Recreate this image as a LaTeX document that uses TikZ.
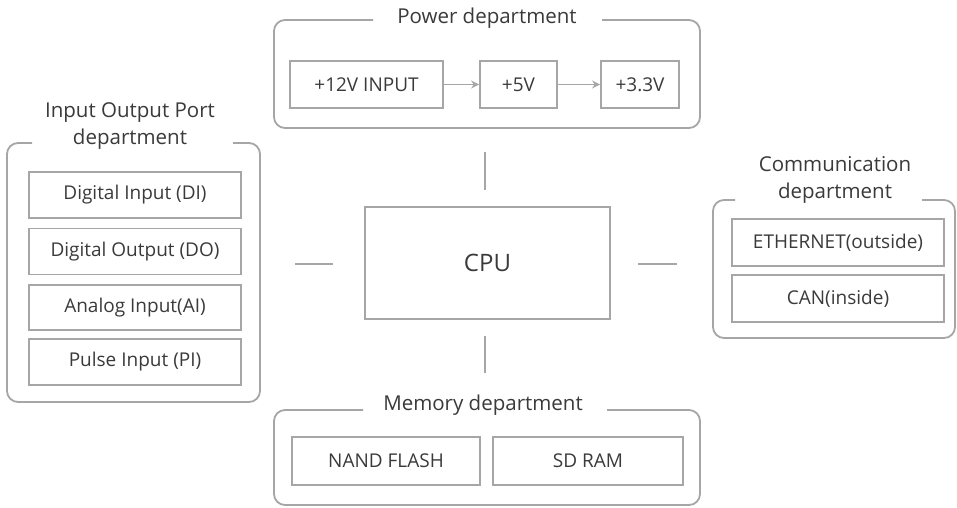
\documentclass[tikz,border=0pt]{standalone}
\usepackage{fontspec}
\setmainfont{Open Sans}
\usetikzlibrary{arrows.meta}
\definecolor{ln}{HTML}{A6A6A6}
\definecolor{tx}{HTML}{3A3A3A}
\begin{document}
\begin{tikzpicture}[x=1pt,y=-1pt,
  box/.style={draw=ln,line width=1.8pt,text=tx,inner sep=0pt,font=\fontsize{19}{22}\selectfont},
  frame/.style={draw=ln,line width=1.8pt,rounded corners=11pt},
  ttl/.style={text=tx,font=\fontsize{20.5}{27}\selectfont,align=center,inner sep=0pt},
  stub/.style={draw=ln,line width=1.8pt},
  arr/.style={draw=ln,line width=1.8pt,-{Stealth[length=8pt,width=8pt]}}]
\useasboundingbox (0,0) rectangle (957,507);
% Power department
\draw[frame] (602,20) -- (700,20) -- (700,128) -- (274,128) -- (274,20) -- (373,20);
\node[ttl] (pwrt) at (487,18) {Power department};
\node[box,minimum width=153pt,minimum height=47pt] (v12) at (366.5,84.5) {+12V INPUT};
\node[box,minimum width=77pt,minimum height=47pt] (v5) at (518.5,84.5) {+5V};
\node[box,minimum width=78pt,minimum height=47pt] (v33) at (640,84.5) {+3.3V};
\draw[arr] (v12) -- (v5);
\draw[arr] (v5) -- (v33);
% IO department
\draw[frame] (233,143) -- (260,143) -- (260,402) -- (7,402) -- (7,143) -- (32,143);
\node[ttl] (iot) at (130,126) {Input Output Port\\department};
\node[box,minimum width=212pt,minimum height=46pt] (di) at (135,195) {Digital Input (DI)};
\node[box,minimum width=212pt,minimum height=46pt] (do) at (135,251.5) {Digital Output (DO)};
\node[box,minimum width=212pt,minimum height=45pt] (ai) at (135,307.5) {Analog Input(AI)};
\node[box,minimum width=212pt,minimum height=46pt] (pi) at (135,362) {Pulse Input (PI)};
% Communication
\draw[frame] (922,200) -- (955,200) -- (955,338) -- (713,338) -- (713,200) -- (735,200);
\node[ttl] (comt) at (835,180) {Communication\\department};
\node[box,minimum width=212pt,minimum height=47pt] (eth) at (838,242.5) {ETHERNET(outside)};
\node[box,minimum width=212pt,minimum height=47pt] (can) at (838,298.5) {CAN(inside)};
% Memory
\draw[frame] (607,410) -- (700,410) -- (700,505) -- (274,505) -- (274,410) -- (363,410);
\node[ttl] (memt) at (483,405) {Memory department};
\node[box,minimum width=188pt,minimum height=48pt] (nand) at (386,461) {NAND FLASH};
\node[box,minimum width=190pt,minimum height=48pt] (sdram) at (588,461) {SD RAM};
% CPU
\node[box,minimum width=245pt,minimum height=112pt,font=\fontsize{24}{28}\selectfont] (cpu) at (487.5,263) {CPU};
\coordinate (t1) at (485,152); \coordinate (t2) at (485,190);
\coordinate (b1) at (485,336); \coordinate (b2) at (485,373);
\coordinate (l1) at (295,264); \coordinate (l2) at (333,264);
\coordinate (r1) at (638,264); \coordinate (r2) at (677,264);
\draw[stub] (t1) -- (t2);
\draw[stub] (b1) -- (b2);
\draw[stub] (l1) -- (l2);
\draw[stub] (r1) -- (r2);
\end{tikzpicture}
\end{document}
